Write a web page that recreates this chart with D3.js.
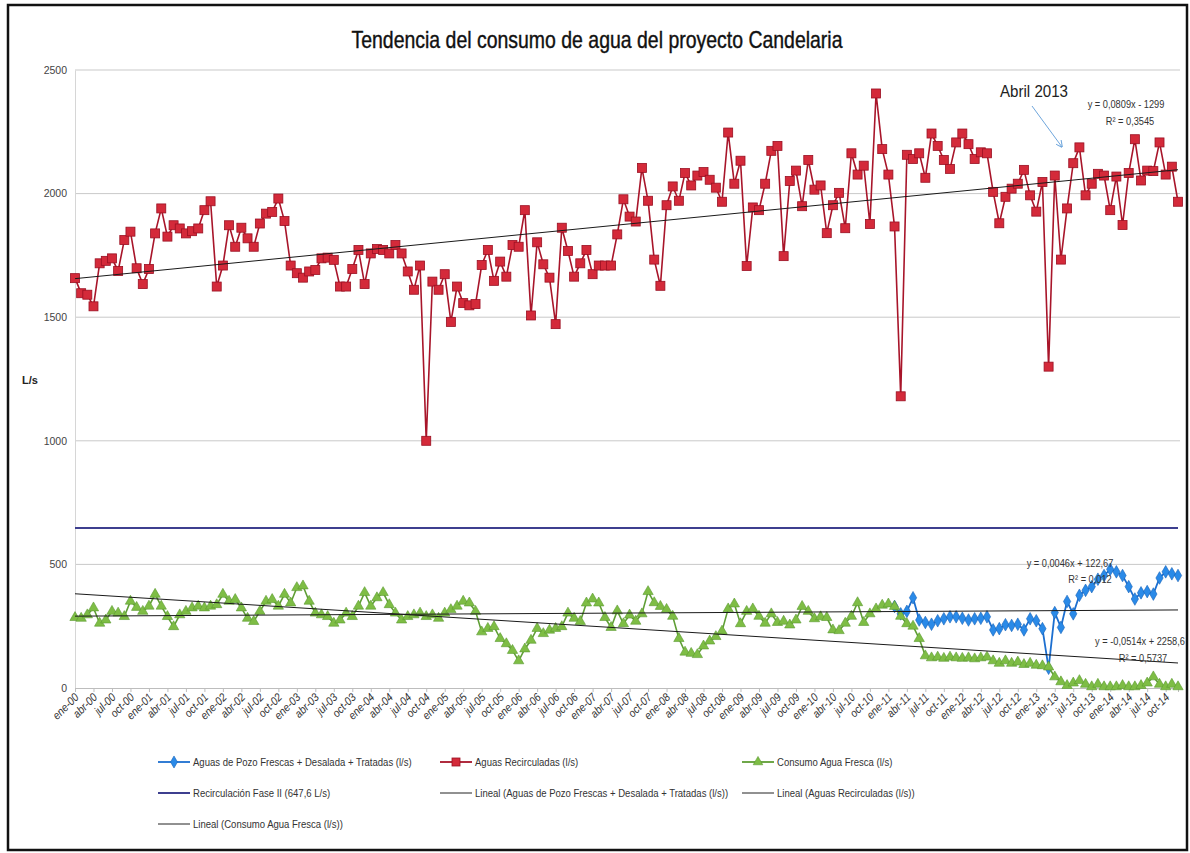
<!DOCTYPE html>
<html lang="es">
<head>
  <meta charset="UTF-8">
  <title>Tendencia consumo de agua</title>
  <script src="https://d3js.org/d3.v7.min.js"></script>
  <style>
    * { margin: 0; padding: 0; box-sizing: border-box; }
    body { background: #fff; }
    svg text { font-family: "Liberation Sans", Arial, sans-serif; }
  </style>
</head>
<body>
<div id="chart"></div>
<script>
  // months / categories
  const monthAbbr = ["ene","feb","mar","abr","may","jun","jul","ago","sep","oct","nov","dic"];
  const years = [2000,2001,2002,2003,2004,2005,2006,2007,2008,2009,2010,2011,2012,2013,2014];
  const categories = years.flatMap(y => monthAbbr.map((m, i) => ({ label: `${m}-${String(y).slice(2)}`, year: y, month: i })));

  // Aguas Recirculadas (l/s)
  const recirculadas = [
    1658,1597,1591,1544,1718,1728,1738,1687,1812,1846,
    1698,1634,1695,1839,1940,1826,1872,1859,1839,1848,
    1859,1933,1969,1624,1709,1872,1785,1862,1819,1785,
    1879,1919,1926,1980,1889,1709,1678,1660,1685,1691,
    1738,1741,1732,1624,1624,1695,1772,1634,1758,1776,
    1772,1758,1792,1758,1685,1611,1709,1000,1644,1611,
    1674,1481,1624,1557,1548,1553,1711,1772,1647,1725,
    1664,1792,1785,1933,1507,1803,1714,1660,1472,1862,
    1768,1664,1718,1772,1674,1709,1709,1709,1835,1977,
    1907,1887,2104,1971,1733,1627,1953,2029,1971,2083,
    2033,2073,2087,2056,2024,1967,2247,2040,2133,1707,
    1944,1933,2040,2173,2193,1747,2051,2093,1949,2136,
    2016,2033,1840,1953,2003,1860,2163,2077,2113,1877,
    2405,2180,2077,1867,1180,2157,2140,2163,2064,2243,
    2193,2136,2100,2207,2243,2200,2140,2167,2163,2007,
    1880,1987,2020,2040,2096,1993,1927,2047,1300,2073,
    1733,1940,2123,2187,1993,2040,2080,2073,1933,2069,
    1873,2083,2220,2053,2093,2091,2207,2077,2109,1967
  ];

  // Consumo Agua Fresca (l/s)
  const aguaFresca = [
    285,282,296,324,262,275,310,303,289,351,
    326,310,331,379,331,289,248,296,310,324,
    331,324,331,337,379,351,358,324,282,269,
    310,351,358,331,379,344,406,413,351,303,
    296,289,262,275,303,289,331,386,331,365,
    386,337,303,275,289,296,303,289,296,282,
    303,317,331,351,344,310,227,241,248,200,
    179,152,110,158,193,241,220,234,241,248,
    303,282,269,344,360,344,285,245,312,260,
    295,270,300,390,345,330,318,290,200,145,
    140,135,170,190,208,230,320,340,260,310,
    320,290,262,300,265,270,255,275,330,310,
    280,288,285,235,232,262,290,345,265,300,
    320,335,340,330,290,260,250,200,130,122,
    125,120,125,122,120,122,118,122,125,110,
    100,110,100,105,95,100,92,90,85,45,
    25,10,20,30,15,5,15,5,5,5,
    10,5,5,10,20,45,15,5,15,5
  ];

  // Aguas de Pozo Frescas + Desalada + Tratadas (l/s), visible from feb-11
  const pozoFrescas = [
    ...Array(133).fill(null),
    330,300,310,365,275,265,258,272,280,288,
    288,282,275,280,282,288,235,240,256,253,
    258,235,280,272,240,80,305,245,350,300,
    375,395,410,440,455,480,470,455,410,360,
    385,390,380,445,470,462,455
  ];

  const recirculacionFaseII = 647.6;

  // trend lines (x = Excel date serial)
  const trendNames = ["pozo", "recirc", "fresca"];
  const trendSlope = [0.0046, 0.0809, -0.0514];
  const trendIntercept = [122.67, -1299, 2258.6];

  const yTicks = [0, 500, 1000, 1500, 2000, 2500];

  const W = 1190, H = 853;
  const margin = { top: 70, right: 12, bottom: 165, left: 75 };

  const svg = d3.select("#chart").append("svg")
    .attr("width", W).attr("height", H);

  svg.append("rect")
    .attr("x", 8).attr("y", 5).attr("width", 1179).attr("height", 845)
    .attr("fill", "#fff").attr("stroke", "#111").attr("stroke-width", 2.5);

  const x = d3.scalePoint()
    .domain(categories.map(d => d.label))
    .range([margin.left, 1178]);

  const y = d3.scaleLinear()
    .domain([0, 2500])
    .range([688, margin.top]);

  // title
  svg.append("text")
    .attr("x", 597).attr("y", 48)
    .attr("text-anchor", "middle")
    .attr("textLength", 491).attr("lengthAdjust", "spacingAndGlyphs")
    .style("font-size", "24px")
    .style("fill", "#111")
    .style("stroke", "#111").style("stroke-width", 0.4)
    .text("Tendencia del consumo de agua del proyecto Candelaria");

  // grid
  svg.append("g")
    .selectAll("line")
    .data(yTicks.filter(d => d > 0))
    .join("line")
    .attr("x1", margin.left).attr("x2", 1180)
    .attr("y1", d => y(d)).attr("y2", d => y(d))
    .attr("stroke", "#c9c9c9").attr("stroke-width", 1);

  // y axis
  const yAxis = svg.append("g")
    .attr("transform", `translate(${margin.left},0)`)
    .call(d3.axisLeft(y).tickValues(yTicks).tickFormat(d3.format("d")).tickSize(0).tickPadding(8));
  yAxis.select(".domain").attr("stroke", "#d6d6d6");
  yAxis.selectAll("text").style("font-size", "10.5px").style("fill", "#444");

  svg.append("text")
    .attr("x", 22).attr("y", 384)
    .style("font-size", "11px").style("font-weight", "bold").style("fill", "#222")
    .text("L/s");

  // x axis
  const xAxis = svg.append("g")
    .attr("transform", `translate(0,${y(0)})`)
    .call(d3.axisBottom(x)
      .tickValues(categories.filter(d => d.month % 3 === 0).map(d => d.label))
      .tickSize(4));
  xAxis.select(".domain").attr("stroke", "#bdbdbd");
  xAxis.selectAll(".tick line").attr("stroke", "#bdbdbd");
  xAxis.selectAll("text")
    .style("font-size", "11.5px").style("fill", "#333")
    .style("font-style", "italic")
    .attr("text-anchor", "end")
    .attr("x", 0).attr("y", 0).attr("dx", 0).attr("dy", 0)
    .attr("transform", "translate(4,10) rotate(-45) scale(0.88,1)");

  // Recirculación Fase II
  svg.append("line")
    .attr("x1", x(categories[0].label)).attr("x2", x(categories[categories.length - 1].label))
    .attr("y1", y(recirculacionFaseII)).attr("y2", y(recirculacionFaseII))
    .attr("stroke", "#3d3f8f").attr("stroke-width", 2);

  const serial = d => (Date.UTC(d.year, d.month, 1) / 864e5) + 25569;

  const line = d3.line()
    .defined(d => d.v != null)
    .x(d => x(d.c.label))
    .y(d => y(d.v));

  function series(values) {
    return categories.map((c, i) => ({ c, v: values[i] }));
  }

  // blue series
  const blue = series(pozoFrescas).filter(d => d.v != null);
  svg.append("path").datum(blue).attr("d", line)
    .attr("fill", "none").attr("stroke", "#1c6fd0").attr("stroke-width", 1.8);
  svg.append("g").selectAll("path").data(blue).join("path")
    .attr("d", d3.symbol(d3.symbolDiamond, 46))
    .attr("transform", d => `translate(${x(d.c.label)},${y(d.v)})`)
    .attr("fill", "#2a8ae8").attr("stroke", "#1763b8").attr("stroke-width", 0.6);

  // red series
  const red = series(recirculadas);
  svg.append("path").datum(red).attr("d", line)
    .attr("fill", "none").attr("stroke", "#a8152a").attr("stroke-width", 1.6);
  svg.append("g").selectAll("rect").data(red).join("rect")
    .attr("x", d => x(d.c.label) - 4.5).attr("y", d => y(d.v) - 4.5)
    .attr("width", 9).attr("height", 9)
    .attr("fill", "#d42a3a").attr("stroke", "#9a1022").attr("stroke-width", 0.8);

  // green series
  const green = series(aguaFresca);
  svg.append("path").datum(green).attr("d", line)
    .attr("fill", "none").attr("stroke", "#5f9e35").attr("stroke-width", 1.6);
  svg.append("g").selectAll("path").data(green).join("path")
    .attr("d", d3.symbol(d3.symbolTriangle, 46))
    .attr("transform", d => `translate(${x(d.c.label)},${y(d.v)})`)
    .attr("fill", "#7ebd45").attr("stroke", "#5a9a30").attr("stroke-width", 0.6);

  // trendlines
  const first = categories[0], last = categories[categories.length - 1];
  trendNames.forEach((name, i) => {
    const f = d => trendSlope[i] * serial(d) + trendIntercept[i];
    svg.append("line")
      .attr("x1", x(first.label)).attr("y1", y(f(first)))
      .attr("x2", x(last.label)).attr("y2", y(f(last)))
      .attr("stroke", "#1a1a1a").attr("stroke-width", 1);
  });

  // equations
  const eqs = [
    { t: "y = 0,0809x - 1299", x: 1126, y: 108 },
    { t: "R² = 0,3545", x: 1130, y: 125 },
    { t: "y = 0,0046x + 122,67", x: 1070, y: 567 },
    { t: "R² = 0,012", x: 1090, y: 583 },
    { t: "y = -0,0514x + 2258,6", x: 1140, y: 645 },
    { t: "R² = 0,5737", x: 1143, y: 662 }
  ];
  svg.append("g").selectAll("text").data(eqs).join("text")
    .attr("transform", d => `translate(${d.x},${d.y}) scale(0.88,1)`)
    .attr("text-anchor", "middle")
    .style("font-size", "10.5px").style("fill", "#333")
    .text(d => d.t);

  // Abril 2013 annotation
  svg.append("defs").append("marker")
    .attr("id", "arr").attr("viewBox", "0 0 10 10").attr("refX", 9).attr("refY", 5)
    .attr("markerWidth", 7).attr("markerHeight", 7).attr("orient", "auto")
    .append("path").attr("d", "M0,0 L10,5 L0,10").attr("fill", "none").attr("stroke", "#6fa6dc").attr("stroke-width", 1.5);
  svg.append("text").attr("x", 1034).attr("y", 97).attr("text-anchor", "middle")
    .attr("textLength", 68).attr("lengthAdjust", "spacingAndGlyphs")
    .style("font-size", "16px").style("fill", "#222").text("Abril 2013");
  svg.append("line").attr("x1", 1032).attr("y1", 106).attr("x2", 1062).attr("y2", 147)
    .attr("stroke", "#6fa6dc").attr("stroke-width", 1).attr("marker-end", "url(#arr)");

  // legend
  const legendItems = [
    { label: "Aguas de Pozo Frescas + Desalada + Tratadas (l/s)", x: 158, y: 762, color: "#1c6fd0", sym: "diamond" },
    { label: "Aguas Recirculadas (l/s)", x: 440, y: 762, color: "#a8152a", sym: "square" },
    { label: "Consumo Agua Fresca (l/s)", x: 742, y: 762, color: "#5f9e35", sym: "triangle" },
    { label: "Recirculación Fase II (647,6 L/s)", x: 158, y: 793, color: "#3d3f8f", sym: null, w: 2 },
    { label: "Lineal (Aguas de Pozo Frescas + Desalada + Tratadas (l/s))", x: 440, y: 793, color: "#222", sym: null, w: 1 },
    { label: "Lineal (Aguas Recirculadas (l/s))", x: 742, y: 793, color: "#222", sym: null, w: 1 },
    { label: "Lineal (Consumo Agua Fresca (l/s))", x: 158, y: 824, color: "#222", sym: null, w: 1 }
  ];
  const lg = svg.append("g").selectAll("g").data(legendItems).join("g")
    .attr("transform", d => `translate(${d.x},${d.y})`);
  lg.append("line").attr("x1", 0).attr("x2", 32).attr("y1", 0).attr("y2", 0)
    .attr("stroke", d => d.color).attr("stroke-width", d => d.w || 1.8);
  lg.filter(d => d.sym === "square").append("rect")
    .attr("x", 12).attr("y", -4).attr("width", 8).attr("height", 8)
    .attr("fill", "#d42a3a").attr("stroke", "#9a1022").attr("stroke-width", 0.8);
  lg.filter(d => d.sym === "diamond").append("path")
    .attr("d", d3.symbol(d3.symbolDiamond, 42)).attr("transform", "translate(16,0)")
    .attr("fill", "#2a8ae8").attr("stroke", "#1763b8").attr("stroke-width", 0.6);
  lg.filter(d => d.sym === "triangle").append("path")
    .attr("d", d3.symbol(d3.symbolTriangle, 40)).attr("transform", "translate(16,0)")
    .attr("fill", "#7ebd45").attr("stroke", "#5a9a30").attr("stroke-width", 0.6);
  lg.append("text")
    .attr("transform", "translate(35,4) scale(0.83,1)")
    .style("font-size", "11.5px").style("fill", "#333")
    .text(d => d.label);
</script>
</body>
</html>
